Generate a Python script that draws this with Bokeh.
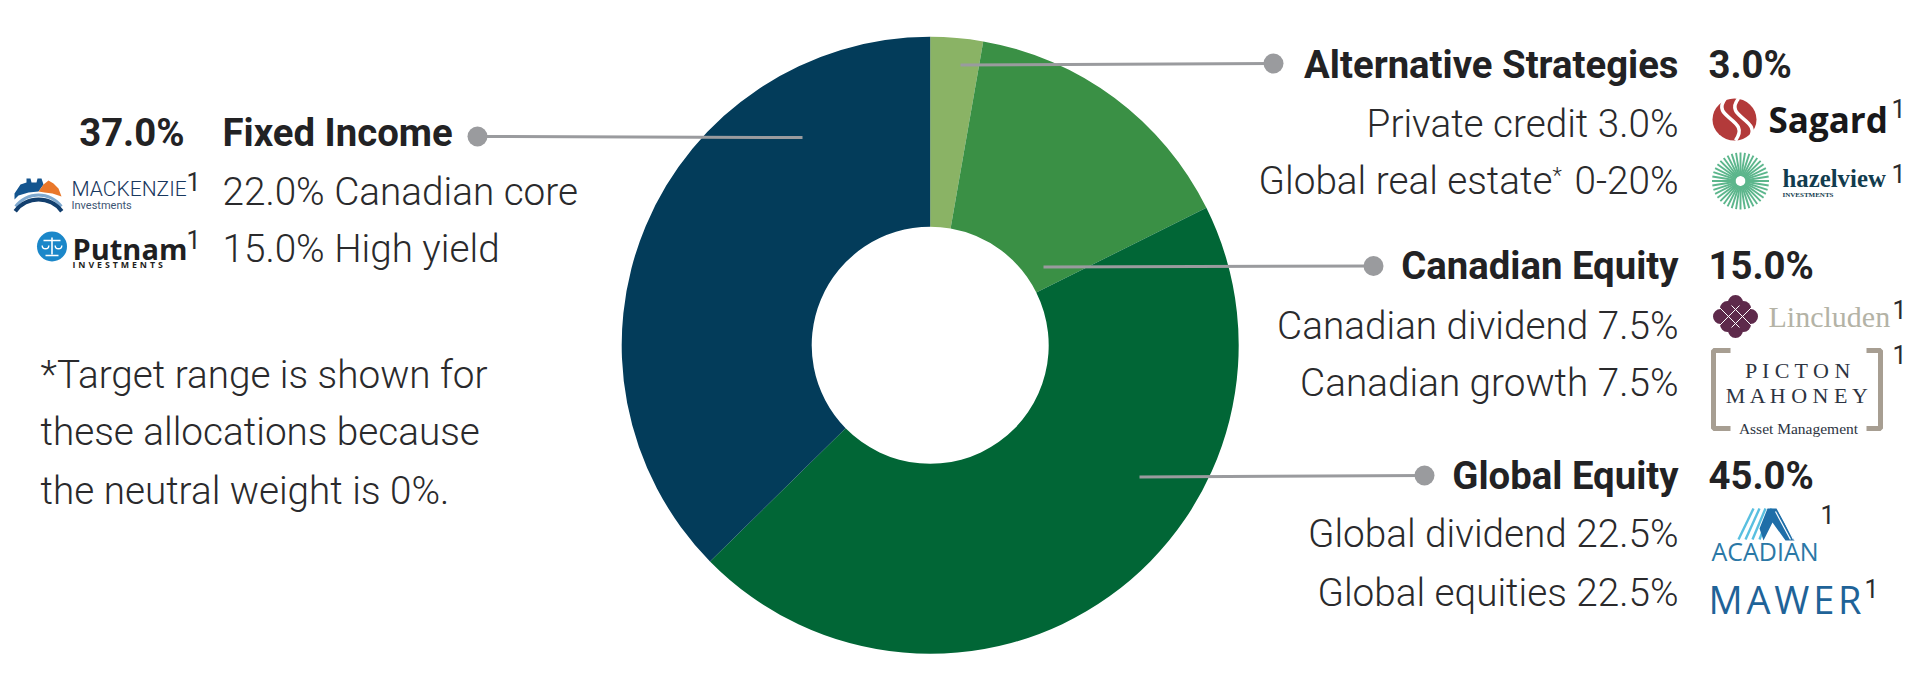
from math import pi, sin, cos
from bokeh.plotting import figure
from bokeh.models import Range1d
from bokeh.core.properties import value
from bokeh.embed import file_html
from bokeh.resources import INLINE

# ---- data ----
categories = ["Alternative Strategies", "Canadian Equity", "Global Equity", "Fixed Income"]
shares_read = [2.75, 14.9, 45.0, 37.35]          # slice sizes (%)
share_labels = ["3.0%", "15.0%", "45.0%", "37.0%"]
colors = ["#8ab365", "#3a9045", "#016636", "#033c5a"]

right_rows = ["Private credit 3.0%", "Canadian dividend 7.5%", "Canadian growth 7.5%",
              "Global dividend 22.5%", "Global equities 22.5%"]
left_rows = ["22.0% Canadian core", "15.0% High yield"]
note_lines = ["*Target range is shown for", "these allocations because", "the neutral weight is 0%."]

W, H = 1920, 689
p = figure(width=W-8, height=H-16, x_range=Range1d(0, W-8), y_range=Range1d(16, H),
           output_backend="svg", toolbar_location=None, x_axis_type=None, y_axis_type=None,
           min_border=0, outline_line_color=None, background_fill_color="white",
           border_fill_color="white")
p.grid.visible = False

def Y(v):
    return H - v

LIGHT = "Roboto Light"
BOLD = "Roboto"
INK = "#2a2a2c"
BOLDINK = "#222224"

def T(x, y, s, size, align="left", font=LIGHT, color=INK, style="normal"):
    # y is the wanted baseline; the text glyph sits about 0.36 em lower than asked
    p.text([x], [Y(y - 0.36 * size)], text=[s], text_font=value(font), text_font_size=f"{size}px",
           text_align=align, text_baseline="alphabetic", text_color=color, text_font_style=style)

def L(xs, ys, color, width=1.0, cap="butt"):
    p.line(xs, [Y(v) for v in ys], line_color=color, line_width=width, line_cap=cap)

def P(xs, ys, color):
    p.patch(xs, [Y(v) for v in ys], fill_color=color, line_color=None)

# ---- donut ----
CX, CY, RO, RI = 929.7, 344.8, 308.5, 118.5
a = 0.0
for share, col in zip(shares_read, colors):
    b = a + share / 100 * 2 * pi
    p.annular_wedge([CX], [Y(CY)], inner_radius=RI, outer_radius=RO,
                    start_angle=pi/2 - b, end_angle=pi/2 - a,
                    fill_color=col, line_color=None)
    a = b

# ---- leader lines ----
GREY = "#9a9b9e"
leaders = [(477, 136, 802, 137), (1273, 63, 960, 64.5), (1373, 265.5, 1043, 266.5), (1424, 475, 1139, 476.5)]
for x0, y0, x1, y1 in leaders:
    L([x0, x1], [y0, y1], GREY, 3)
    p.circle([x0], [Y(y0)], radius=10, fill_color=GREY, line_color=None)

# ---- group headers ----
RX, PX, FS = 1678, 1708, 38.3
for name, pct, y in zip(categories[:3], share_labels[:3], [77.5, 279, 488.5]):
    T(RX, y, name, FS, "right", BOLD, BOLDINK, "bold")
    T(PX, y, pct, FS, "left", BOLD, BOLDINK, "bold")
T(184, 145.5, share_labels[3], FS, "right", BOLD, BOLDINK, "bold")
T(222, 145.5, categories[3], FS, "left", BOLD, BOLDINK, "bold")

# ---- rows ----
FL = 38.7
for s, y in zip(right_rows, [136.5, 338.5, 396, 546.7, 605.5]):
    T(RX, y, s, FL, "right")
T(RX, 194, "0-20%", FL, "right")
T(1552, 194, "Global real estate", FL, "right")
T(1552, 183, "*", 22, "left")
for s, y in zip(left_rows, [205, 262]):
    T(222, y, s, FL, "left")
for s, y in zip(note_lines, [387.5, 445, 504]):
    T(40, y, s, FL, "left")

# ---- footnote marks ----
for x, y in [(193, 190), (193, 248), (1898, 117), (1898, 182), (1899, 318), (1899, 363), (1827, 523), (1871, 597)]:
    T(x, y, "1", 25, "center", "Roboto", "#2a2a2c")

# ---- logos (drawn as simple shapes and real text) ----
# Mackenzie
P([14, 20, 26, 26, 30, 31, 36, 37, 41, 43, 38, 28, 18, 14], [193, 184, 182, 178, 178, 182, 182, 178, 178, 184, 191, 192, 195, 199],
  "#14558f")
P([38, 43, 48, 53, 58, 61, 52, 44, 38], [191, 184, 180, 183, 188, 196, 193, 192, 191], "#e9772a")
p.annular_wedge([38], [Y(223)], inner_radius=27, outer_radius=30, start_angle=0.64, end_angle=pi - 0.64,
                fill_color="#7fa9cf", line_color=None)
p.annular_wedge([38], [Y(228)], inner_radius=27, outer_radius=31, start_angle=0.64, end_angle=pi - 0.64,
                fill_color="#123f6e", line_color=None)
T(71, 196, "MACKENZIE", 21, "left", "Roboto Light", "#17375e")
T(71, 209, "Investments", 11, "left", "Roboto", "#3d5573")

# Putnam
p.circle([51.5], [Y(246)], radius=15, fill_color="#1b87c9", line_color=None)
L([51.5, 51.5], [237, 254], "white", 1.6)
L([43, 60], [240, 240], "white", 1.6)
L([45, 58], [255, 255], "white", 1.6)
p.annular_wedge([45, 58], [Y(245), Y(245)], inner_radius=2.6, outer_radius=4, start_angle=pi, end_angle=2*pi,
                fill_color="white", line_color=None)
T(72, 258, "Putnam", 29, "left", "Open Sans", "#1f1f22", "bold")
T(72, 268, "\u2004".join("INVESTMENTS"), 8.8, "left", "Open Sans", "#1f1f22", "bold")

# Sagard
p.ellipse([1734], [Y(119)], width=44, height=42, fill_color="#b33a3a", line_color=None)
for x0 in (1725, 1738):
    p.bezier(x0=[x0], y0=[Y(98)], x1=[x0 + 10], y1=[Y(140)], cx0=[x0 - 16], cy0=[Y(118)], cx1=[x0 + 26], cy1=[Y(118)],
             line_color="white", line_width=3.5)
T(1768, 132, "Sagard", 35, "left", "Open Sans", "#18181a", "bold")

# Hazelview
for k in range(40):
    t = k * 2 * pi / 40
    L([1740 + 5*cos(t), 1740 + 28.5*cos(t)], [180.5 + 5*sin(t), 180.5 + 28.5*sin(t)], "#5cb68c", 1.9)
T(1782, 187, "hazelview", 24.8, "left", "Liberation Serif", "#123c4e", "bold")
T(1782, 197, "INVESTMENTS", 7, "left", "Liberation Serif", "#123c4e", "bold")

# Lincluden
for dx, dy in [(0, -14), (15, 0), (0, 14), (-15, 0), (-8, -8), (8, -8), (8, 8), (-8, 8), (0, 0)]:
    p.circle([1735 + dx], [Y(316 + dy)], radius=7.5, fill_color="#5e2a4b", line_color=None)
for s in (-7, 7):
    L([1735 + s - 11, 1735 + s + 11], [316 - 11, 316 + 11], "white", 1)
    L([1735 + s - 11, 1735 + s + 11], [316 + 11, 316 - 11], "white", 1)
T(1768, 327, "Lincluden", 30, "left", "Liberation Serif", "#b4b3a6")

# Picton Mahoney
BR = "#a79e92"
L([1730, 1713, 1713, 1730], [350, 350, 428, 428], BR, 5)
L([1866, 1880, 1880, 1866], [350, 350, 428, 428], BR, 5)
T(1798, 378, "P I C T O N", 22, "center", "Liberation Serif", "#2d3442")
T(1798, 403, "M A H O N E Y", 22, "center", "Liberation Serif", "#2d3442")
T(1798, 434, "Asset Management", 15.5, "center", "Liberation Serif", "#2d3442")

# Acadian
for k in range(4):
    L([1738 + k*7, 1753 + k*6], [539, 508], "#59bfe0", 2.4)
P([1767, 1776, 1794, 1785, 1772, 1763, 1759], [508, 508, 540, 540, 522, 540, 528], "#1f6ea8")
for k in range(2):
    L([1775 + k*4, 1790 + k*3], [511, 539], "white", 1.2)
T(1711, 559, "ACADIAN", 25, "left", "Open Sans", "#2b78a6")

# Mawer
T(1708, 612, "\u200a".join("MAWER"), 38, "left", "Open Sans", "#1f6398")

open("out.html", "w").write(file_html(p, INLINE))
